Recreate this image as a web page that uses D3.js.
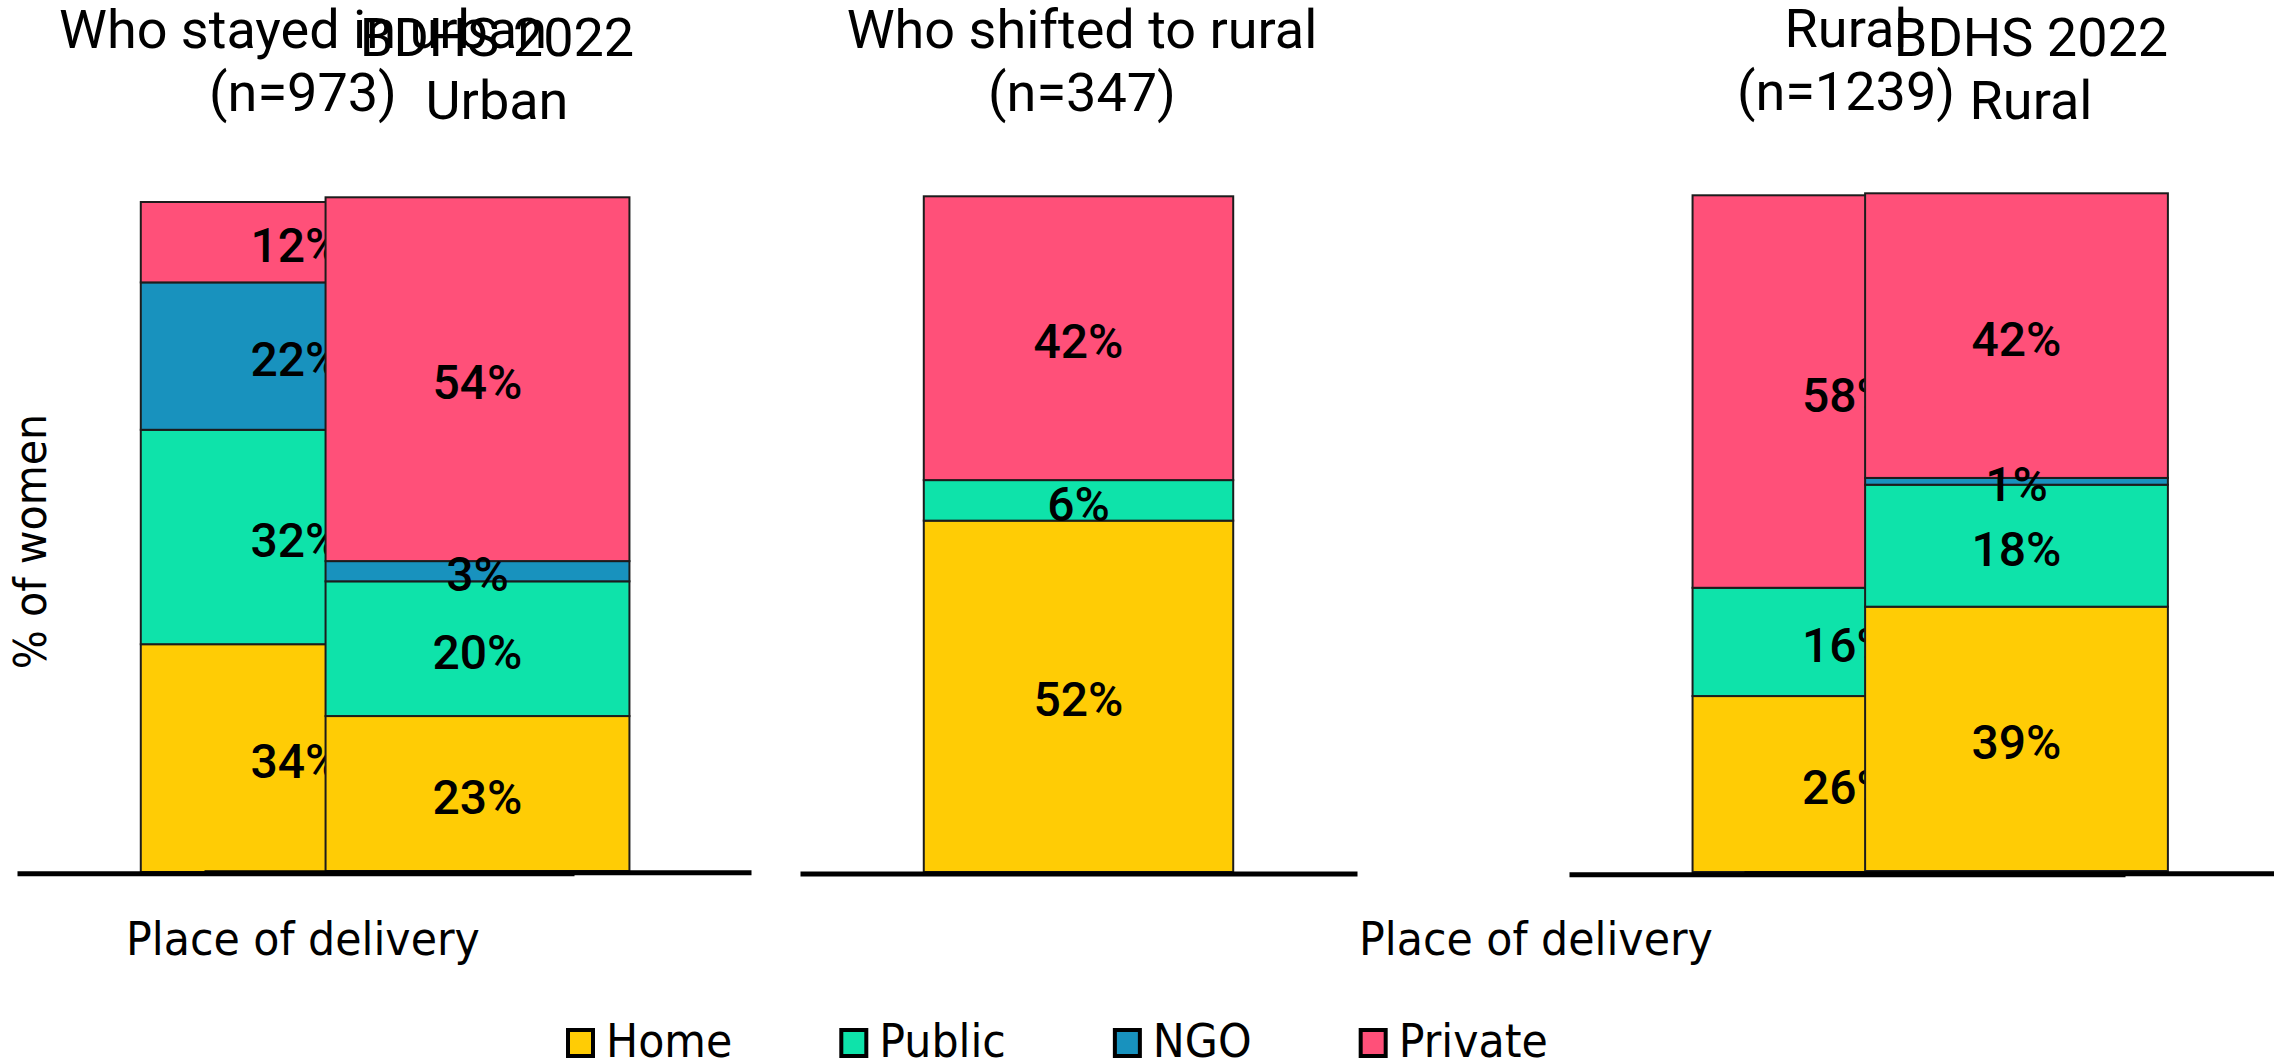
<!DOCTYPE html>
<html>
<head>
<meta charset="utf-8">
<script src="https://cdn.jsdelivr.net/npm/d3@7"></script>
<style>
  html, body { margin: 0; padding: 0; background: #ffffff; }
  svg { display: block; }
</style>
</head>
<body>
<svg id="chart" width="2274" height="1062"></svg>
<script>
// Place of delivery, share of women (%) per group
const facilities   = ["Home", "Public", "NGO", "Private"];
const groups       = ["stayedUrban", "bdhsUrban", "shiftedRural", "stayedRural", "bdhsRural"];
const titleLine1   = ["Who stayed in urban", "BDHS 2022", "Who shifted to rural", "Rural", "BDHS 2022"];
const titleLine2   = ["(n=973)", "Urban", "(n=347)", "(n=1239)", "Rural"];
const homeShare    = [34, 23, 52, 26, 39];
const publicShare  = [32, 20, 6, 16, 18];
const ngoShare     = [22, 3, 0, 0, 1];
const privateShare = [12, 54, 42, 58, 42];
const facilityColors = ["#FFCC05", "#0EE3AA", "#1892BE", "#FF5079"];

// Frame of each small panel: horizontal extent of its baseline, top of the 100% bar,
// bar baseline, baseline rule position, and title centre/baseline.
const frames = [
  { x0: 17,   x1: 574,  top: 202,   base: 872, rule: 873.3, titleX: 303,  titleY: 48   },
  { x0: 204,  x1: 751,  top: 197.3, base: 871, rule: 872.3, titleX: 497,  titleY: 55.5 },
  { x0: 800,  x1: 1357, top: 196.3, base: 872, rule: 873.5, titleX: 1082, titleY: 48   },
  { x0: 1569, x1: 2125, top: 195.3, base: 872, rule: 874.3, titleX: 1846, titleY: 47   },
  { x0: 1744, x1: 2289, top: 193.3, base: 871, rule: 873.2, titleX: 2031, titleY: 55.5 }
];

const rows = groups.map((g, i) => ({
  group: g,
  Home: homeShare[i],
  Public: publicShare[i],
  NGO: ngoShare[i],
  Private: privateShare[i]
}));

const stacked = d3.stack().keys(facilities)(rows);
const color = d3.scaleOrdinal().domain(facilities).range(facilityColors);

const svg = d3.select("#chart");
const DIN = "Roboto, 'DejaVu Sans', sans-serif";
const SANS = "'DejaVu Sans', sans-serif";

// DejaVu Sans drawn narrower than normal, giving the condensed look of the axis/legend text
function condensedText(parent, x, y, str, opts = {}) {
  const sx = opts.squeeze || 0.93;
  const g = parent.append("g")
    .attr("transform", `translate(${x},${y}) rotate(${opts.rotate || 0}) scale(${sx},1)`);
  return g.append("text")
    .attr("x", 0).attr("y", 0)
    .attr("text-anchor", opts.anchor || "start")
    .attr("font-family", SANS)
    .attr("font-size", opts.size || 46)
    .attr("fill", "#000")
    .text(str);
}

groups.forEach((g, gi) => {
  const f = frames[gi];
  const panel = svg.append("g").attr("class", "panel-" + g);

  const x = d3.scaleBand().domain([g]).range([f.x0, f.x1]).paddingOuter(0.4).paddingInner(0);
  const y = d3.scaleLinear().domain([0, 100]).range([f.base, f.top]);

  const segs = stacked.map(layer => ({
    key: layer.key, y0: layer[gi][0], y1: layer[gi][1], value: layer[gi].data[layer.key]
  })).filter(d => d.value > 0);

  panel.selectAll("rect.seg")
    .data(segs)
    .join("rect")
    .attr("class", "seg")
    .attr("x", x(g))
    .attr("width", x.bandwidth())
    .attr("y", d => y(d.y1))
    .attr("height", d => y(d.y0) - y(d.y1))
    .attr("fill", d => color(d.key))
    .attr("stroke", "#1c1c1c")
    .attr("stroke-width", 2);

  panel.selectAll("text.val")
    .data(segs)
    .join("text")
    .attr("class", "val")
    .attr("x", x(g) + x.bandwidth() / 2)
    .attr("y", d => (y(d.y0) + y(d.y1)) / 2)
    .attr("dy", "0.42em")
    .attr("text-anchor", "middle")
    .attr("font-family", DIN)
    .attr("font-weight", 500)
    .attr("font-size", 48)
    .attr("fill", "#000")
    .text(d => d.value + "%");

  // Title, two lines
  const title = panel.append("text")
    .attr("text-anchor", "middle")
    .attr("font-family", DIN)
    .attr("font-size", 54)
    .attr("fill", "#000");
  title.append("tspan").attr("x", f.titleX).attr("y", f.titleY).text(titleLine1[gi]);
  title.append("tspan").attr("x", f.titleX).attr("y", f.titleY + 63).text(titleLine2[gi]);

  // Baseline rule
  const axis = d3.axisBottom(x).tickSize(0).tickSizeOuter(0).tickFormat("");
  const ax = panel.append("g")
    .attr("transform", `translate(0,${f.rule})`)
    .call(axis);
  ax.select(".domain").attr("stroke", "#000").attr("stroke-width", 5);
  ax.selectAll(".tick").remove();
});

// Y axis title
condensedText(svg, 46, 541.5, "% of women", { rotate: -90, anchor: "middle", size: 45, squeeze: 0.915 });

// X axis titles
condensedText(svg, 126, 955, "Place of delivery");
condensedText(svg, 1359, 955, "Place of delivery");

// Legend
const legend = svg.append("g").attr("class", "legend");
let lx = 566;
facilities.forEach((name, i) => {
  legend.append("rect")
    .attr("x", lx + 2).attr("y", 1030)
    .attr("width", 25).attr("height", 26)
    .attr("fill", facilityColors[i])
    .attr("stroke", "#000")
    .attr("stroke-width", 4);
  const t = condensedText(legend, lx + 40, 1057, name);
  const w = t.node().getComputedTextLength() * 0.93;
  lx = lx + 40 + w + 107;
});
</script>
</body>
</html>
